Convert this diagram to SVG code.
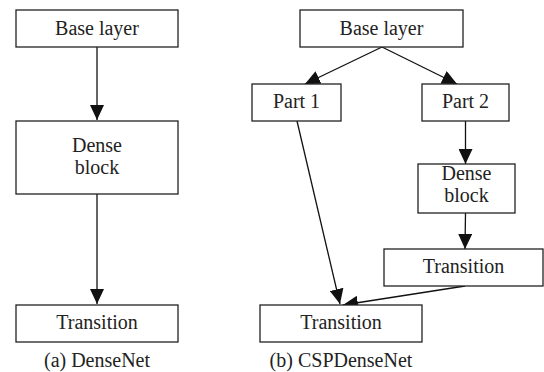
<svg xmlns="http://www.w3.org/2000/svg" width="544" height="372" viewBox="0 0 544 372">
<style>
.box{fill:#fff;stroke:#222;stroke-width:1.3}
.e{stroke:#111;stroke-width:1.3;fill:none}
.t{font-family:"Liberation Serif",serif;font-size:20px;fill:#222;text-anchor:middle}
</style>
<defs>
<marker id="ah" markerUnits="userSpaceOnUse" markerWidth="16" markerHeight="14" viewBox="0 0 16 14" refX="15" refY="7" orient="auto">
<path d="M0,0 L15,7 L0,14 Z" fill="#111"/>
</marker>
</defs>
<rect width="544" height="372" fill="#fff"/>
<g id="connectors">
<line class="e" x1="97" y1="47" x2="97" y2="120" marker-end="url(#ah)"/>
<line class="e" x1="97" y1="194" x2="97" y2="304" marker-end="url(#ah)"/>
<line class="e" x1="382" y1="47" x2="305" y2="84" marker-end="url(#ah)"/>
<line class="e" x1="382" y1="47" x2="457" y2="84" marker-end="url(#ah)"/>
<line class="e" x1="465.5" y1="121" x2="465.5" y2="164" marker-end="url(#ah)"/>
<line class="e" x1="465.5" y1="213" x2="465" y2="249" marker-end="url(#ah)"/>
<line class="e" x1="297" y1="121" x2="340" y2="304" marker-end="url(#ah)"/>
<line class="e" x1="465" y1="286" x2="343" y2="305" marker-end="url(#ah)"/>
</g>
<g id="a_base"><rect class="box" x="16" y="10" width="162" height="37"/><text class="t" font-family="Liberation Serif" x="97" y="34.5">Base layer</text></g>
<g id="a_dense"><rect class="box" x="16" y="121" width="162" height="73"/><text class="t" font-family="Liberation Serif" x="97" y="152">Dense</text><text class="t" font-family="Liberation Serif" x="97" y="174">block</text></g>
<g id="a_trans"><rect class="box" x="16" y="305" width="162" height="37"/><text class="t" font-family="Liberation Serif" x="97" y="329">Transition</text></g>
<text class="t" font-family="Liberation Serif" x="97" y="367">(a) DenseNet</text>
<g id="b_base"><rect class="box" x="300" y="10" width="163" height="37"/><text class="t" font-family="Liberation Serif" x="381.5" y="34.5">Base layer</text></g>
<g id="b_part1"><rect class="box" x="252" y="84" width="89" height="37"/><text class="t" font-family="Liberation Serif" x="296.5" y="108">Part 1</text></g>
<g id="b_part2"><rect class="box" x="422" y="84" width="87" height="37"/><text class="t" font-family="Liberation Serif" x="465.5" y="108">Part 2</text></g>
<g id="b_dense"><rect class="box" x="418" y="164" width="97" height="49"/><text class="t" font-family="Liberation Serif" x="466.5" y="180">Dense</text><text class="t" font-family="Liberation Serif" x="466.5" y="202">block</text></g>
<g id="b_trans1"><rect class="box" x="384" y="249" width="159" height="37"/><text class="t" font-family="Liberation Serif" x="463.5" y="273">Transition</text></g>
<g id="b_trans2"><rect class="box" x="260" y="305" width="162" height="37"/><text class="t" font-family="Liberation Serif" x="341" y="329">Transition</text></g>
<text class="t" font-family="Liberation Serif" x="341" y="367">(b) CSPDenseNet</text>
</svg>
